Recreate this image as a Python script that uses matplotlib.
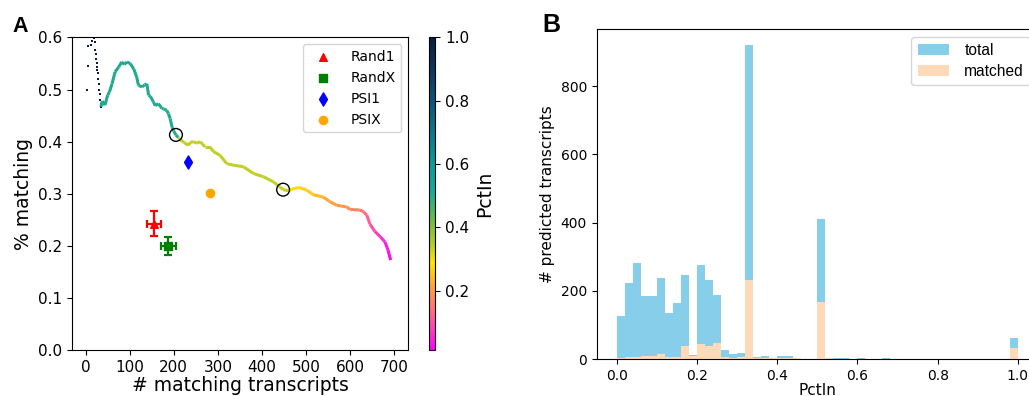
import numpy as np
import matplotlib
matplotlib.use("Agg")
import matplotlib.pyplot as plt
from matplotlib.collections import LineCollection
from matplotlib.colors import LinearSegmentedColormap, Normalize

# ---- panel A: cumulative curve ----
head_x = [3, 5, 6, 12, 15, 20, 21, 22, 23, 24, 25, 26, 27, 28, 29, 30, 31, 32, 33, 34, 35]
head_y = [0.500, 0.545, 0.584, 0.585, 0.594, 0.598, 0.592, 0.575, 0.568, 0.559, 0.550,
          0.543, 0.537, 0.531, 0.520, 0.511, 0.500, 0.492, 0.480, 0.472, 0.467]

curve_x = [35, 38, 44, 50, 54, 60, 67, 75, 82, 88, 94, 101, 109, 116, 120, 128, 134, 139,
           143, 147, 154, 158, 165, 173, 177, 184, 188, 192, 196, 200, 205,
           210, 215, 224, 233, 238, 245, 252, 260, 271, 282, 290, 305, 320, 335, 358, 381,
           403, 426, 441, 448,
           460, 471, 486, 502, 517, 539, 554, 570, 592, 600, 622, 630, 638, 645, 656, 668,
           679, 686, 692]
curve_y = [0.467, 0.478, 0.470, 0.489, 0.495, 0.511, 0.534, 0.543, 0.553, 0.548, 0.553,
           0.550, 0.540, 0.524, 0.508, 0.505, 0.509, 0.511, 0.489, 0.487, 0.476, 0.469,
           0.473, 0.464, 0.463, 0.460, 0.454, 0.444, 0.428, 0.420, 0.413,
           0.408, 0.404, 0.398, 0.393, 0.399, 0.400, 0.397, 0.400, 0.390, 0.390, 0.381,
           0.374, 0.358, 0.355, 0.352, 0.339, 0.333, 0.323, 0.313, 0.308,
           0.306, 0.310, 0.312, 0.307, 0.298, 0.294, 0.285, 0.278, 0.275, 0.270, 0.269,
           0.266, 0.259, 0.242, 0.228, 0.218, 0.208, 0.192, 0.173]
curve_pct = [0.5] * 31 + [0.333] * 20 + [0.29, 0.28, 0.27, 0.26, 0.24, 0.22, 0.21, 0.20,
                                         0.18, 0.17, 0.15, 0.14, 0.12, 0.10, 0.08, 0.06,
                                         0.04, 0.025, 0.013]

circle_x = [205, 448]
circle_y = [0.413, 0.308]

rand_names = ["Rand1", "RandX"]
rand_x = [156, 188]
rand_y = [0.243, 0.200]
rand_xerr = [15.8, 17.5]
rand_yerr = [0.0235, 0.0165]

psi_names = ["PSI1", "PSIX"]
psi_x = [233, 282]
psi_y = [0.361, 0.302]

# ---- panel B: histogram counts, bins of 0.02 from 0 to 1 ----
total = [127, 223, 282, 185, 185, 238, 135, 165, 246, 12,
         276, 232, 188, 26, 16, 18, 920, 7, 10, 4,
         10, 10, 4, 0, 0, 411, 4, 4, 4, 0,
         3, 0, 0, 3, 0, 0, 0, 0, 0, 0,
         0, 0, 0, 0, 0, 0, 0, 0, 0, 62]
matched = [4, 7, 7, 10, 10, 16, 7, 7, 39, 10,
           45, 39, 48, 7, 4, 7, 232, 4, 4, 4,
           4, 4, 4, 0, 0, 168, 4, 0, 0, 0,
           0, 0, 0, 0, 0, 0, 0, 0, 0, 0,
           0, 0, 0, 0, 0, 0, 0, 0, 0, 33]

cmap = LinearSegmentedColormap.from_list("pct", [
    (0.0, "#ff00ff"), (0.1, "#ff5c96"), (0.2, "#ffa040"), (0.28, "#ffe400"),
    (0.333, "#b8cc2a"), (0.42, "#6cb84a"), (0.5, "#1ca994"), (0.6, "#0a9a98"),
    (0.8, "#10507a"), (1.0, "#0b1e3c")])
norm = Normalize(vmin=0.012, vmax=1.0)

fig = plt.figure(figsize=(10.29, 3.96), dpi=100)

# ---------------- A ----------------
ax = fig.add_axes([0.0703, 0.1154, 0.3265, 0.7902])
pts = np.column_stack([curve_x, curve_y]).reshape(-1, 1, 2)
segs = np.concatenate([pts[:-1], pts[1:]], axis=1)
lc = LineCollection(segs, cmap=cmap, norm=norm, linewidths=2.2, capstyle="butt")
lc.set_array(np.asarray(curve_pct[:-1]))
ax.add_collection(lc)
ax.scatter(head_x, head_y, s=3, marker="s", color=cmap(norm(1.0)), linewidths=0)
ax.scatter(circle_x, circle_y, s=85, facecolors="none", edgecolors="black", linewidths=1.0, zorder=4)

ax.errorbar(rand_x[0], rand_y[0], xerr=rand_xerr[0], yerr=rand_yerr[0], fmt="none",
            ecolor="red", elinewidth=1.6, capsize=3, capthick=1.6)
ax.errorbar(rand_x[1], rand_y[1], xerr=rand_xerr[1], yerr=rand_yerr[1], fmt="none",
            ecolor="green", elinewidth=1.6, capsize=3, capthick=1.6)
ax.scatter(rand_x[0], rand_y[0], marker="^", s=30, color="red", label=rand_names[0], zorder=5)
ax.scatter(rand_x[1], rand_y[1], marker="s", s=30, color="green", label=rand_names[1], zorder=5)
ax.scatter(psi_x[0], psi_y[0], marker="d", s=45, color="blue", label=psi_names[0], zorder=5)
ax.scatter(psi_x[1], psi_y[1], marker="o", s=35, color="orange", label=psi_names[1], zorder=5)

ax.set_xlim(-30, 732)
ax.set_ylim(0, 0.6)
ax.set_xticks(range(0, 701, 100))
ax.set_yticks([0.0, 0.1, 0.2, 0.3, 0.4, 0.5, 0.6])
ax.tick_params(labelsize=11)
ax.set_xlabel("# matching transcripts", fontsize=13.5, labelpad=1)
ax.set_ylabel("% matching", fontsize=13.5)
ax.legend(loc="upper right", fontsize=10, scatterpoints=1, handletextpad=1.0)

cax = fig.add_axes([0.4169, 0.1154, 0.0063, 0.7902])
cb = fig.colorbar(lc, cax=cax, ticks=[0.2, 0.4, 0.6, 0.8, 1.0])
cb.ax.tick_params(labelsize=11)
cb.set_label("PctIn", fontsize=13.5)
cb.outline.set_linewidth(0.8)

fig.text(0.0117, 0.919, "A", fontsize=15.5, fontweight="bold", family="Liberation Sans")

# ---------------- B ----------------
axb = fig.add_axes([0.5799, 0.0927, 0.4288, 0.8333])
edges = np.linspace(0, 1, len(total) + 1)
axb.bar(edges[:-1], total, width=0.02, align="edge", color="skyblue", label="total")
axb.bar(edges[:-1], matched, width=0.02, align="edge", color="peachpuff", label="matched")
axb.set_xlim(-0.05, 1.05)
axb.set_ylim(0, 966)
axb.set_yticks([0, 200, 400, 600, 800])
axb.tick_params(labelsize=10)
axb.set_xlabel("PctIn", fontsize=11, labelpad=0)
axb.set_ylabel("# predicted transcripts", fontsize=11)
axb.legend(loc="upper right", prop={"family": "Liberation Sans", "size": 11.2},
           labelspacing=0.35, handletextpad=1.0)

fig.text(0.527, 0.919, "B", fontsize=18, fontweight="bold", family="Liberation Sans")

fig.savefig("out.png", dpi=100)
